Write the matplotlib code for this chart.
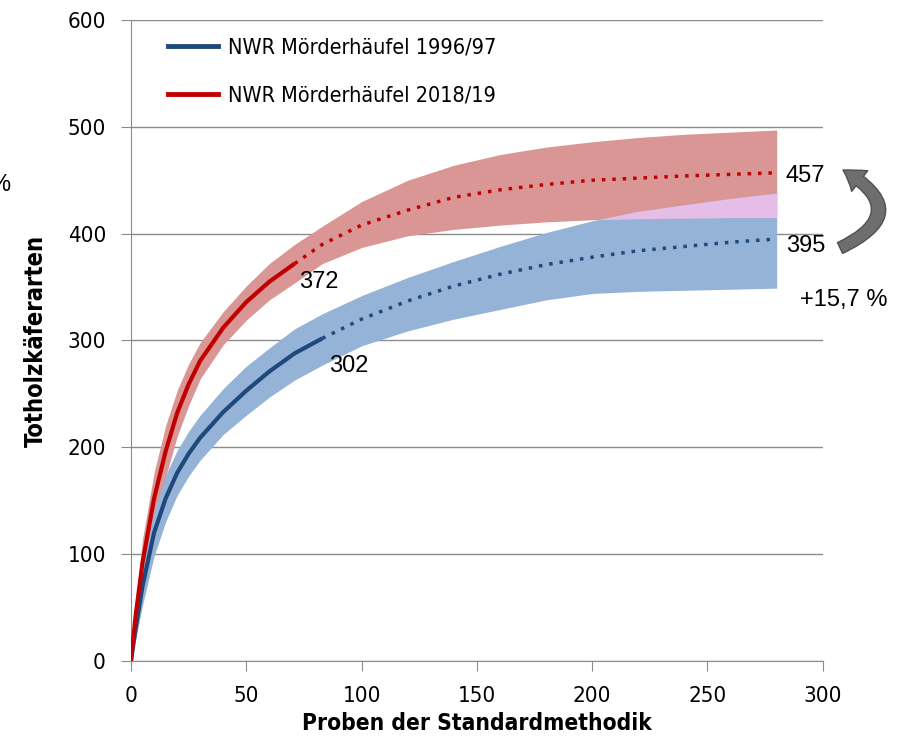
import numpy as np
import matplotlib
matplotlib.use("Agg")
import matplotlib.pyplot as plt
from matplotlib.patches import FancyArrowPatch
from matplotlib.lines import Line2D

# samples of the standard method (x grid shared by all series)
proben = [0, 2, 5, 10, 15, 20, 25, 30, 40, 50, 60, 71, 83, 100, 120, 140,
          160, 180, 200, 220, 240, 260, 280]

# NWR Mörderhäufel 2018/19 (observed up to 71 samples, extrapolated after)
rot_mittel = [0, 42, 92, 152, 196, 232, 259, 281, 312, 336, 355, 372, 390,
              408, 422, 434, 441, 446, 450, 452, 454, 455.5, 457]
rot_oben = [0, 54, 114, 176, 220, 253, 278, 298, 327, 351, 372, 390, 407,
            430, 450, 464, 474, 481, 486, 490, 493, 495, 497]
rot_unten = [0, 30, 70, 128, 172, 210, 239, 264, 296, 319, 338, 354, 372,
             387, 398, 404, 408, 411, 413, 414, 414.5, 415, 415]
rot_ende = 71

# NWR Mörderhäufel 1996/97 (observed up to 83 samples)
blau_mittel = [0, 30, 70, 120, 152, 176, 194, 209, 233, 253, 271, 288, 302,
               320, 337, 351, 362, 371, 378, 384, 388, 392, 395]
blau_oben = [0, 40, 88, 140, 174, 197, 215, 230, 255, 276, 293, 311, 325,
             342, 359, 374, 388, 401, 412, 421, 427, 433, 438]
blau_unten = [0, 20, 52, 98, 130, 155, 173, 188, 212, 230, 247, 263, 277,
              295, 309, 320, 329, 338, 344, 346, 347, 348, 349]
blau_ende = 83

labels = ["NWR Mörderhäufel 1996/97", "NWR Mörderhäufel 2018/19"]

narrow = dict(family="DejaVu Sans", stretch="condensed")
arial = ["Liberation Sans", "DejaVu Sans"]

x = np.array(proben, dtype=float)
rm, ro, ru = map(np.array, (rot_mittel, rot_oben, rot_unten))
bm, bo, bu = map(np.array, (blau_mittel, blau_oben, blau_unten))

fig = plt.figure(figsize=(9.02, 7.48), dpi=100)
ax = fig.add_axes([0.1452, 0.1163, 0.767, 0.857])

# confidence bands
ax.fill_between(x, ru, ro, color="#d99694", lw=0, zorder=1)
ax.fill_between(x, bu, bo, color="#95b3d7", lw=0, zorder=2)
overlap = (bo > ru) & (x >= 100)
ax.fill_between(x, ru, bo, where=overlap, interpolate=True,
                color="#e6bde6", lw=0, zorder=3)

# observed (solid) and extrapolated (dotted) curves
r_obs = x <= rot_ende
r_ext = x >= rot_ende
b_obs = x <= blau_ende
b_ext = x >= blau_ende
ax.plot(x[b_obs], bm[b_obs], color="#1f497d", lw=3, zorder=4,
        solid_capstyle="butt", solid_joinstyle="round")
ax.plot(x[b_ext], bm[b_ext], color="#1f497d", lw=2.5, ls=(0, (1, 2)),
        zorder=4)
ax.plot(x[r_obs], rm[r_obs], color="#c00000", lw=3, zorder=4,
        solid_capstyle="butt", solid_joinstyle="round")
ax.plot(x[r_ext], rm[r_ext], color="#c00000", lw=2.5, ls=(0, (1, 2)),
        zorder=4)

ax.set_xlim(0, 300)
ax.set_ylim(0, 600)
ax.set_xticks(range(0, 301, 50))
ax.set_yticks(range(0, 601, 100))
ax.yaxis.grid(True, color="#8c8c8c", lw=1)
ax.set_axisbelow(True)
for s in ("top", "right"):
    ax.spines[s].set_visible(False)
for s in ("left", "bottom"):
    ax.spines[s].set_color("#8c8c8c")
ax.tick_params(direction="out", length=7, color="#8c8c8c", labelsize=16,
               pad=11)
for lab in ax.get_xticklabels() + ax.get_yticklabels():
    lab.set_family("DejaVu Sans")
    lab.set_stretch("condensed")
ax.set_xlabel("Proben der Standardmethodik", fontweight="bold",
              fontsize=16.3, labelpad=4, **narrow)
ax.set_ylabel("Totholzkäferarten", fontweight="bold", fontsize=17,
              labelpad=14, **narrow)

handles = [Line2D([], [], color="#1f497d", lw=3.5),
           Line2D([], [], color="#c00000", lw=3.5)]
ax.legend(handles, labels, loc="upper left", bbox_to_anchor=(0.026, 1.003),
          frameon=False,
          prop={"family": "DejaVu Sans", "stretch": "condensed", "size": 15.5},
          handlelength=2.3, labelspacing=1.29, handletextpad=0.47)

# end values and difference
txt = dict(family=arial, fontsize=17, va="center", clip_on=False)
ax.text(73, 355, "372", **txt)
ax.text(86, 276, "302", **txt)
ax.text(284, 454, "457", **txt)
ax.text(284, 388, "395", **txt)
ax.text(290, 338, "+15,7 %", **txt)

arrow = FancyArrowPatch((0.9313, 0.6684), (0.9346, 0.7727),
                        transform=fig.transFigure,
                        connectionstyle="arc3,rad=0.95",
                        arrowstyle="simple,head_width=0.94,head_length=0.72,tail_width=0.43",
                        mutation_scale=20, fc="#6e6e6e", ec="#505050",
                        lw=1, shrinkA=0, shrinkB=0, clip_on=False, zorder=6)
fig.add_artist(arrow)

fig.text(0.0, 0.753, "%", family=arial, fontsize=17, ha="center",
         va="center")

fig.savefig("out.png", dpi=100)
